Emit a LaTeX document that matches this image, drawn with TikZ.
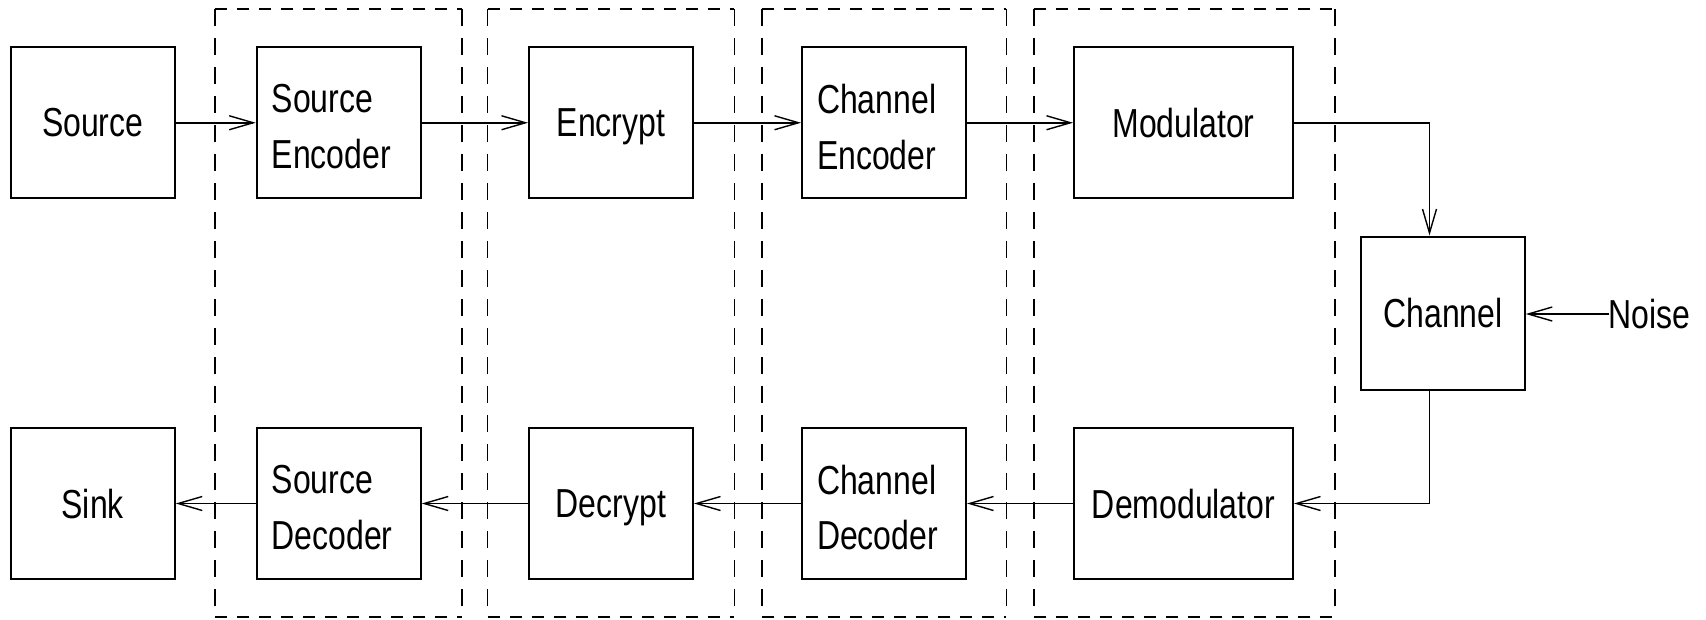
\documentclass[tikz,border=0pt]{standalone}
\usepackage{fontspec}
\setmainfont{Liberation Sans}[FakeStretch=0.79]
\usetikzlibrary{arrows.meta}
\newcommand\mytwolines[2]{\raisebox{0pt}[\dimexpr\height+8pt\relax][\depth]{\parbox{134pt}{#1\\#2}}}
\tikzset{
  blk/.style={draw, line width=2pt, inner sep=0pt, minimum width=164pt, minimum height=151pt, align=center,
    font=\fontsize{40.5}{55.6}\selectfont},
  blk1/.style={blk, text depth=0pt},
  blk2/.style={draw, line width=2pt, inner sep=0pt, minimum width=164pt, minimum height=151pt,
    font=\fontsize{40.5}{55.6}\selectfont},
  conn/.style={line width=1.8pt, -{Straight Barb[length=24pt,width=14pt,line width=1.4pt]}},
  dashh/.style={line width=1.8pt, dash pattern=on 12pt off 10pt},
  dashv/.style={line width=1.8pt, dash pattern=on 17pt off 12pt},
}
\begin{document}
\begin{tikzpicture}[x=1pt,y=-1pt]
\useasboundingbox (0,0) rectangle (1706,619);
% dashed groups
\foreach \l/\r in {215/462, 487.5/734.4, 761.6/1006.4, 1033.6/1334.7}{
  \draw[dashh] (\l,9.3) -- (\r,9.3);
  \draw[dashh] (\l,617) -- (\r,617);
  \draw[dashv] (\l,9.3) -- (\l,617);
  \draw[dashv] (\r,9.3) -- (\r,617);
}
% top row
\node[blk1] (src) at (92.75,122.75) {Source};
\node[blk2] (senc) at (338.7,122.75) {\mytwolines{Source}{Encoder}};
\node[blk1] (enc) at (611,122.75) {Encrypt};
\node[blk2] (cenc) at (884,122.75) {\mytwolines{Channel}{Encoder}};
\node[blk1, minimum width=219pt] (mod) at (1183.5,122.75) {Modulator};
% channel
\node[blk1, minimum width=163.5pt, minimum height=153pt] (chan) at (1443,313) {Channel};
\node[font=\fontsize{40.5}{55.6}\selectfont, inner sep=0pt, anchor=west] (noise) at (1608.6,314) {Noise};
% bottom row
\node[blk1] (sink) at (92.75,503.5) {Sink};
\node[blk2] (sdec) at (338.7,503.5) {\mytwolines{Source}{Decoder}};
\node[blk1] (dec) at (611,503.5) {Decrypt};
\node[blk2] (cdec) at (884,503.5) {\mytwolines{Channel}{Decoder}};
\node[blk1, minimum width=219pt] (demod) at (1183.5,503.5) {Demodulator};
% connectors
\draw[conn] (src) -- (senc);
\draw[conn] (senc) -- (enc);
\draw[conn] (enc) -- (cenc);
\draw[conn] (cenc) -- (mod);
\draw[conn] (mod.east) -| ([xshift=-13.5pt]chan.north);
\draw[conn] (noise.west) -- (noise.west -| chan.east);
\draw[conn] ([xshift=-13.5pt]chan.south) |- (demod.east);
\draw[conn] (demod) -- (cdec);
\draw[conn] (cdec) -- (dec);
\draw[conn] (dec) -- (sdec);
\draw[conn] (sdec) -- (sink);
\end{tikzpicture}
\end{document}
